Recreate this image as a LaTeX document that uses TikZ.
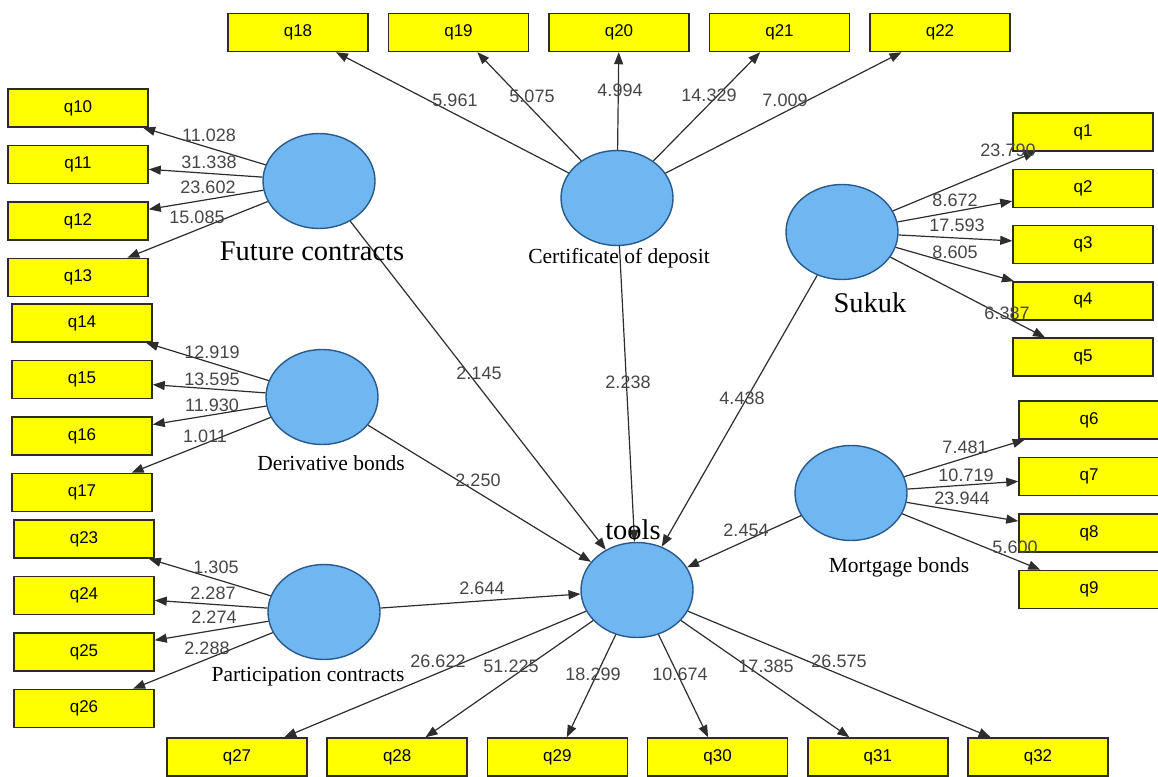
\documentclass[tikz,border=0pt]{standalone}
\usepackage{fontspec}
\setmainfont{Liberation Serif}
\setsansfont{Liberation Sans}
\usetikzlibrary{positioning,arrows.meta,shapes.geometric}
\definecolor{itemyellow}{RGB}{255,255,0}
\definecolor{boxline}{RGB}{45,45,35}
\definecolor{circblue}{RGB}{112,182,240}
\definecolor{circline}{RGB}{40,90,140}
\definecolor{linegray}{RGB}{45,45,45}
\definecolor{valgray}{RGB}{70,70,70}

\begin{document}
\begin{tikzpicture}[x=1pt,y=-1pt,
	item/.style={draw=boxline, fill=itemyellow, line width=1.5pt, minimum width=140pt, minimum height=38pt, inner sep=0pt, font=\sffamily\fontsize{17}{17}\selectfont},
	latent/.style={ellipse, draw=circline, fill=circblue, line width=1.4pt, minimum width=112pt, minimum height=95pt, inner sep=0pt},
	link/.style={draw=linegray, line width=1.2pt, -{Triangle[length=12pt,width=9pt]}},
	val/.style={text=valgray, font=\sffamily\fontsize{18}{18}\selectfont, inner sep=0pt},
	bigname/.style={font=\fontsize{28.5}{29}\selectfont, inner sep=0pt},
	smallname/.style={font=\fontsize{21.5}{22}\selectfont, inner sep=0pt}]
	\useasboundingbox (0,0) rectangle (1158,776);

	% latent variables
	\node[latent] (fut) at (319,181) {};
	\node[latent] (der) at (322,397) {};
	\node[latent] (par) at (324,612) {};
	\node[latent] (cod) at (617,198) {};
	\node[latent] (suk) at (842,232) {};
	\node[latent] (mor) at (851,493) {};
	\node[latent] (tls) at (637,590) {};

	% indicators, left
	\node[item] (q10) at (78,108) {q10};
	\node[item, below=17pt of q10] (q11) {q11};
	\node[item, below=17pt of q11] (q12) {q12};
	\node[item, below=17pt of q12] (q13) {q13};
	\node[item] (q14) at (82,323) {q14};
	\node[item, below=17pt of q14] (q15) {q15};
	\node[item, below=17pt of q15] (q16) {q16};
	\node[item, below=17pt of q16] (q17) {q17};
	\node[item] (q23) at (84,539) {q23};
	\node[item, below=17pt of q23] (q24) {q24};
	\node[item, below=17pt of q24] (q25) {q25};
	\node[item, below=17pt of q25] (q26) {q26};
	% indicators, top
	\node[item] (q18) at (298,32.5) {q18};
	\node[item, right=19pt of q18] (q19) {q19};
	\node[item, right=19pt of q19] (q20) {q20};
	\node[item, right=19pt of q20] (q21) {q21};
	\node[item, right=19pt of q21] (q22) {q22};
	% indicators, right
	\node[item] (q1) at (1083,132) {q1};
	\node[item, below=16.8pt of q1] (q2) {q2};
	\node[item, below=16.8pt of q2] (q3) {q3};
	\node[item, below=16.8pt of q3] (q4) {q4};
	\node[item, below=16.8pt of q4] (q5) {q5};
	\node[item] (q6) at (1089,420) {q6};
	\node[item, below=17pt of q6] (q7) {q7};
	\node[item, below=17pt of q7] (q8) {q8};
	\node[item, below=17pt of q8] (q9) {q9};
	% indicators, bottom
	\node[item] (q27) at (237,757) {q27};
	\node[item, right=18.7pt of q27] (q28) {q28};
	\node[item, right=18.7pt of q28] (q29) {q29};
	\node[item, right=18.7pt of q29] (q30) {q30};
	\node[item, right=18.7pt of q30] (q31) {q31};
	\node[item, right=18.7pt of q31] (q32) {q32};

	% outer loadings
	\draw[link] (fut) -- (q10);
	\draw[link] (fut) -- (q11);
	\draw[link] (fut) -- (q12);
	\draw[link] (fut) -- (q13);
	\draw[link] (der) -- (q14);
	\draw[link] (der) -- (q15);
	\draw[link] (der) -- (q16);
	\draw[link] (der) -- (q17);
	\draw[link] (par) -- (q23);
	\draw[link] (par) -- (q24);
	\draw[link] (par) -- (q25);
	\draw[link] (par) -- (q26);
	\draw[link] (cod) -- (q18);
	\draw[link] (cod) -- (q19);
	\draw[link] (cod) -- (q20);
	\draw[link] (cod) -- (q21);
	\draw[link] (cod) -- (q22);
	\draw[link] (suk) -- (q1);
	\draw[link] (suk) -- (q2);
	\draw[link] (suk) -- (q3);
	\draw[link] (suk) -- (q4);
	\draw[link] (suk) -- (q5);
	\draw[link] (mor) -- (q6);
	\draw[link] (mor) -- (q7);
	\draw[link] (mor) -- (q8);
	\draw[link] (mor) -- (q9);
	\draw[link] (tls) -- (q27);
	\draw[link] (tls) -- (q28);
	\draw[link] (tls) -- (q29);
	\draw[link] (tls) -- (q30);
	\draw[link] (tls) -- (q31);
	\draw[link] (tls) -- (q32);
	% inner paths
	\draw[link] (fut) -- (tls);
	\draw[link] (der) -- (tls);
	\draw[link] (par) -- (tls);
	\draw[link] (cod) -- (tls);
	\draw[link] (suk) -- (tls);
	\draw[link] (mor) -- (tls);

	% names
	\node[bigname] (futlab) at (312,251) {Future contracts};
	\node[smallname] (derlab) at (331,463) {Derivative bonds};
	\node[smallname] (parlab) at (308,677) {Participation contracts};
	\node[smallname] (codlab) at (619,258) {Certificate of deposit};
	\node[bigname] (suklab) at (870,303) {Sukuk};
	\node[smallname] (morlab) at (899,567) {Mortgage bonds};
	\node[bigname] (tlslab) at (633,530) {tools};

	% t values
	\node[val] (v10) at (209,135) {11.028};
	\node[val] (v11) at (209,162) {31.338};
	\node[val] (v12) at (208,187) {23.602};
	\node[val] (v13) at (197,217) {15.085};
	\node[val] (v14) at (212,352) {12.919};
	\node[val] (v15) at (212,379) {13.595};
	\node[val] (v16) at (212,405) {11.930};
	\node[val] (v17) at (205,436) {1.011};
	\node[val] (v23) at (216,567) {1.305};
	\node[val] (v24) at (213,593) {2.287};
	\node[val] (v25) at (214,617) {2.274};
	\node[val] (v26) at (207,648) {2.288};
	\node[val] (v18) at (455,100) {5.961};
	\node[val] (v19) at (532,96) {5.075};
	\node[val] (v20) at (620,90) {4.994};
	\node[val] (v21) at (709,95) {14.329};
	\node[val] (v22) at (785,100) {7.009};
	\node[val] (v1) at (1008,150) {23.790};
	\node[val] (v2) at (955,200) {8.672};
	\node[val] (v3) at (957,225) {17.593};
	\node[val] (v4) at (955,252) {8.605};
	\node[val] (v5) at (1007,313) {6.387};
	\node[val] (v6) at (965,447) {7.481};
	\node[val] (v7) at (966,475) {10.719};
	\node[val] (v8) at (962,498) {23.944};
	\node[val] (v9) at (1015,547) {5.600};
	\node[val] (vfut) at (479,373) {2.145};
	\node[val] (vder) at (478,480) {2.250};
	\node[val] (vcod) at (628,382) {2.238};
	\node[val] (vsuk) at (742,398) {4.438};
	\node[val] (vmor) at (746,530) {2.454};
	\node[val] (vpar) at (482,588) {2.644};
	\node[val] (v27) at (438,661) {26.622};
	\node[val] (v28) at (511,666) {51.225};
	\node[val] (v29) at (593,674) {18.299};
	\node[val] (v30) at (680,674) {10.674};
	\node[val] (v31) at (766,666) {17.385};
	\node[val] (v32) at (839,661) {26.575};
\end{tikzpicture}
\end{document}
